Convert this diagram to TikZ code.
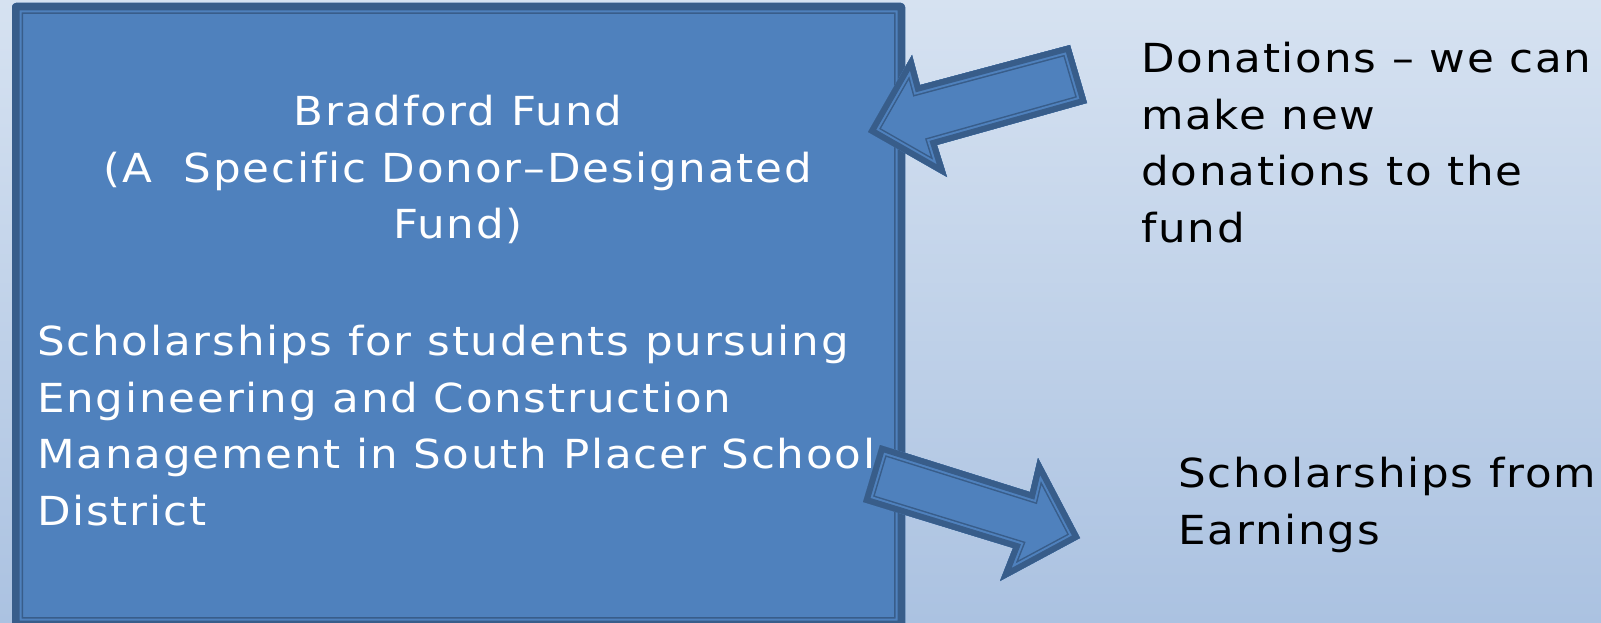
\documentclass[tikz,border=0pt]{standalone}
\usepackage{fontspec}
\setmainfont{DejaVu Sans}[LetterSpace=4.5, FakeStretch=1.09, Ligatures=NoCommon]
\usetikzlibrary{positioning}
\definecolor{fundblue}{RGB}{79,129,189}
\definecolor{fundline}{RGB}{56,93,138}
\definecolor{bgtop}{RGB}{214,226,241}
\definecolor{bgbottom}{RGB}{171,194,225}

\tikzset{
  slidetext/.style={inner sep=0pt, font=\fontsize{40}{56.5}\selectfont},
}

% filled shape with a thick-thin frame inside its outline
\newcommand{\framedshape}[3][]{%
  \fill[fundblue,#1] #3;
  \begin{scope}
    \clip[#1] #3;
    \draw[fundline, line width=2*(#2+3.5)*1pt, line join=miter, #1] #3;
    \draw[fundblue, line width=2*(#2+2)*1pt, line join=miter, #1] #3;
    \draw[fundline, line width=2*#2*1pt, line join=miter, #1] #3;
  \end{scope}}

\begin{document}
\begin{tikzpicture}[x=1pt, y=-1pt]
\shade[top color=bgtop, bottom color=bgbottom] (0,0) rectangle (1601,623);
\useasboundingbox (0,0) rectangle (1601,623);

% fund box
\framedshape[rounded corners=4pt]{7.5}{(12,3) rectangle (905,628)}

% donations in
\framedshape{6}{(868,132) -- (912,55) -- (920,85) -- (1070,45) -- (1087,103) -- (937,145) -- (947,177) -- cycle}
% scholarships out
\framedshape{6}{(880,445) -- (1030,492) -- (1038,458) -- (1080,538) -- (1000,581) -- (1013,548) -- (863,502) -- cycle}

\node[slidetext, white, align=center, anchor=north] (fund) at (458,95)
  {Bradford Fund\\(A\ \ Specific Donor–Designated\\Fund)};
\node[slidetext, white, align=left, anchor=north west] (purpose) at (37,325)
  {Scholarships for students pursuing\\Engineering and Construction\\Management in South Placer School\\District};
\node[slidetext, align=left, anchor=north west] (donations) at (1141,42)
  {Donations – we can\\make new\\donations to the\\fund};
\node[slidetext, align=left, anchor=north west] (earnings) at (1178,457)
  {Scholarships from\\Earnings};
\end{tikzpicture}
\end{document}
